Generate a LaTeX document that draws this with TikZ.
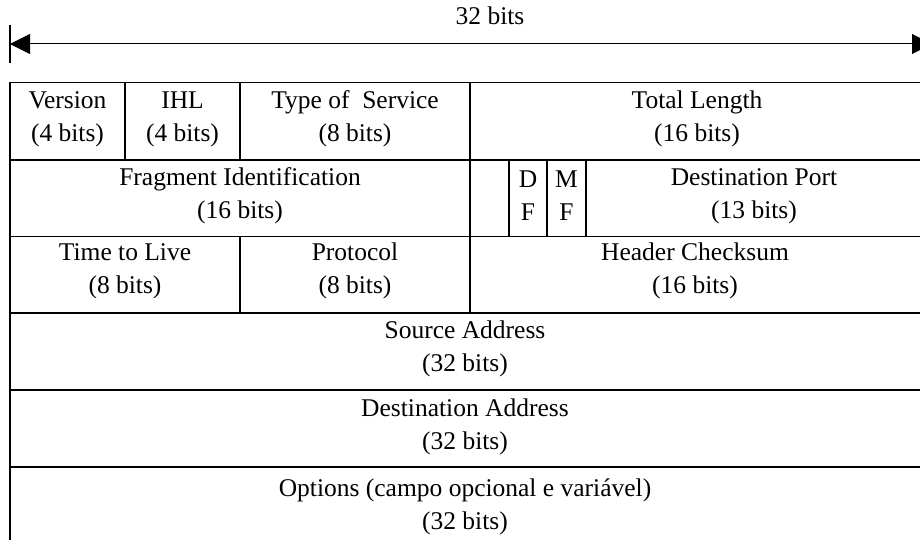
\documentclass[tikz,border=0pt]{standalone}
\usepackage{fontspec}
\setmainfont{Liberation Serif}
\usetikzlibrary{arrows.meta}
\begin{document}
\begin{tikzpicture}[x=1pt,y=-1pt,
  grid/.style={line width=1.2pt,black},
  cell/.style={align=center,inner sep=0pt,font=\fontsize{25.5}{33}\selectfont},
  arr/.style={line width=1pt,{Triangle[length=20pt,width=20pt]}-{Triangle[length=20pt,width=20pt]}}]
\clip (0,0) rectangle (920,540);
\useasboundingbox (0,0) rectangle (920,540);
% dimension arrow
\coordinate (aL) at (10,44);
\coordinate (aR) at (932,44);
\draw[line width=1.2pt] (10,25) -- (10,63);
\draw[arr] (aL) -- (aR);
\node[cell] (w) at (490,16) {32 bits};
% table lines
\draw[line width=1.8pt] (10,82.5) -- (920,82.5);
\draw[grid] (10,82.5) -- (10,540);
\draw[grid] (10,160) -- (920,160);
\draw[grid] (10,236.5) -- (920,236.5);
\draw[grid] (10,313) -- (920,313);
\draw[grid] (10,390) -- (920,390);
\draw[line width=1.6pt] (10,467) -- (920,467);
\draw[grid] (125,82.5) -- (125,160);
\draw[grid] (240,82.5) -- (240,160);
\draw[grid] (470,82.5) -- (470,313);
\draw[grid] (240,236.5) -- (240,313);
\draw[grid] (509,160) rectangle (547,236.5);
\draw[grid] (547,160) -- (547,236.5);
\draw[grid] (586,160) -- (586,236.5);
% texts
\node[cell] (ver) at (67.5,119) {Version\\(4 bits)};
\node[cell] (ihl) at (182.5,119) {IHL\\(4 bits)};
\node[cell] (tos) at (355,119) {Type of\ \ Service\\(8 bits)};
\node[cell] (tl) at (697,119) {Total Length\\(16 bits)};
\node[cell] (fid) at (240,196) {Fragment Identification\\(16 bits)};
\node[cell] (df) at (528,196) {D\\F};
\node[cell] (mf) at (566.5,196) {M\\F};
\node[cell] (dp) at (754,196) {Destination Port\\(13 bits)};
\node[cell] (ttl) at (125,271) {Time to Live\\(8 bits)};
\node[cell] (pro) at (355,271) {Protocol\\(8 bits)};
\node[cell] (hc) at (695,271) {Header Checksum\\(16 bits)};
\node[cell] (sa) at (465,349) {Source Address\\(32 bits)};
\node[cell] (da) at (465,427) {Destination Address\\(32 bits)};
\node[cell] (op) at (465,507) {Options (campo opcional e vari\'avel)\\(32 bits)};
\end{tikzpicture}
\end{document}
